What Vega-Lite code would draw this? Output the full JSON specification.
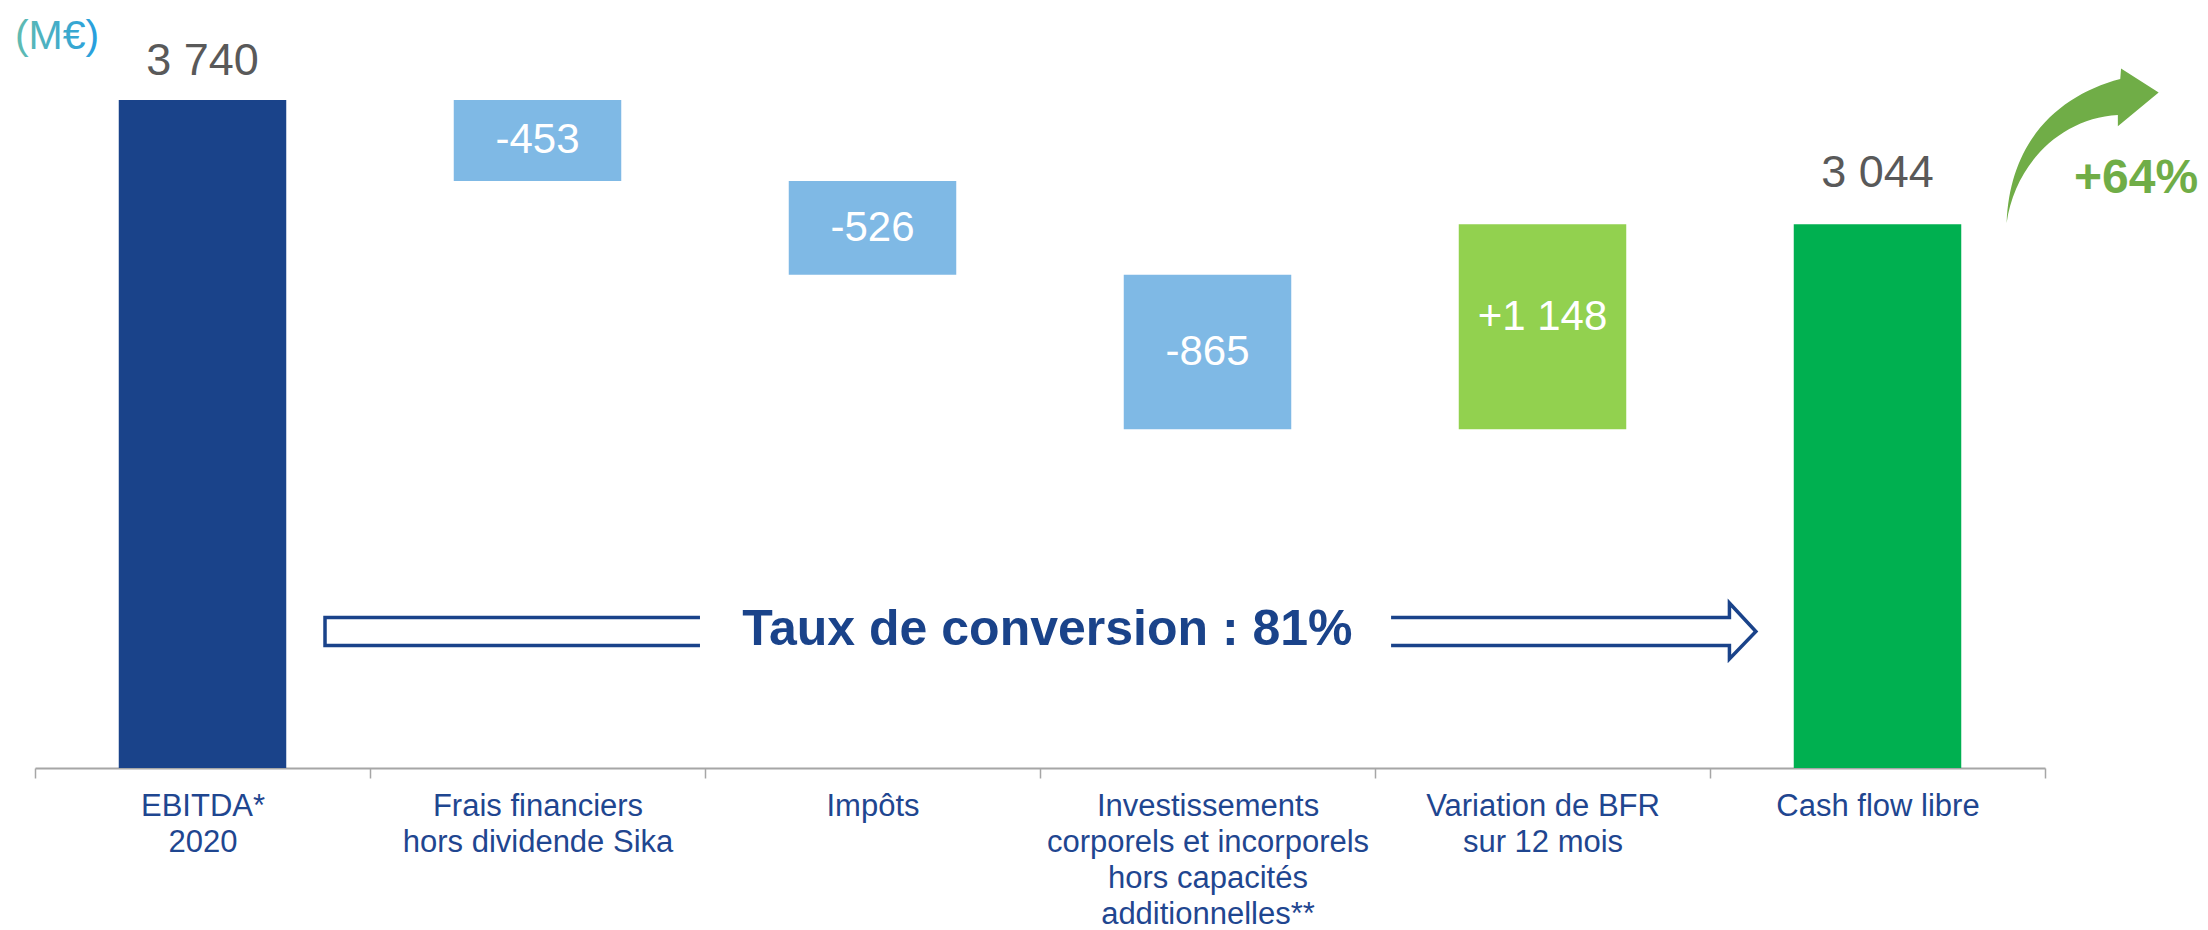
{
  "$schema": "https://vega.github.io/schema/vega-lite/v6.json",
  "width": 2010,
  "height": 768,
  "autosize": {"type": "none"},
  "padding": {"left": 35, "top": 0, "right": 163, "bottom": 162},
  "background": "white",
  "config": {"view": {"stroke": null}, "font": "Liberation Sans"},
  "datasets": {
    "steps": [
      {"cat": "EBITDA*|2020", "start": 0, "end": 3740, "kind": "base", "pos": "out", "txt": "3 740"},
      {"cat": "Frais financiers|hors dividende Sika", "start": 3740, "end": 3287, "kind": "neg", "pos": "in", "txt": "-453"},
      {"cat": "Impôts", "start": 3287, "end": 2761, "kind": "neg", "pos": "in", "txt": "-526"},
      {"cat": "Investissements|corporels et incorporels|hors capacités|additionnelles**", "start": 2761, "end": 1896, "kind": "neg", "pos": "in", "txt": "-865"},
      {"cat": "Variation de BFR|sur 12 mois", "start": 1896, "end": 3044, "kind": "pos", "pos": "in", "txt": "+1 148"},
      {"cat": "Cash flow libre", "start": 0, "end": 3044, "kind": "total", "pos": "out", "txt": "3 044"}
    ],
    "outline": [
      {"seg": "L", "i": 1, "qx": 1.985, "qy": 842.6},
      {"seg": "L", "i": 2, "qx": 0.8657, "qy": 842.6},
      {"seg": "L", "i": 3, "qx": 0.8657, "qy": 685.9},
      {"seg": "L", "i": 4, "qx": 1.985, "qy": 685.9},
      {"seg": "R", "i": 1, "qx": 4.048, "qy": 842.6},
      {"seg": "R", "i": 2, "qx": 5.058, "qy": 842.6},
      {"seg": "R", "i": 3, "qx": 5.058, "qy": 923.8},
      {"seg": "R", "i": 4, "qx": 5.137, "qy": 764},
      {"seg": "R", "i": 5, "qx": 5.058, "qy": 610.3},
      {"seg": "R", "i": 6, "qx": 5.058, "qy": 685.9},
      {"seg": "R", "i": 7, "qx": 4.048, "qy": 685.9}
    ]
  },
  "resolve": {"scale": {"x": "independent"}},
  "layer": [
    {
      "layer": [
        {
          "data": {"name": "steps"},
          "mark": {"type": "bar", "width": {"band": 0.5}},
          "encoding": {
            "x": {
              "field": "cat", "type": "nominal", "sort": null,
              "scale": {
                "domain": ["EBITDA*|2020", "Frais financiers|hors dividende Sika", "Impôts", "Investissements|corporels et incorporels|hors capacités|additionnelles**", "Variation de BFR|sur 12 mois", "Cash flow libre"],
                "paddingInner": 0, "paddingOuter": 0
              },
              "axis": {
                "title": null, "labelAngle": 0, "labelExpr": "split(datum.label, '|')",
                "labelFont": "Liberation Sans", "labelFontSize": 31, "labelColor": "#1f4690",
                "labelLineHeight": 36, "labelPadding": 13, "labelLimit": 500,
                "domainColor": "#a6a6a6", "domainWidth": 2,
                "ticks": true, "tickBand": "extent", "tickSize": 10, "tickColor": "#a6a6a6", "tickWidth": 1.5,
                "grid": false
              }
            },
            "y": {"field": "start", "type": "quantitative", "scale": {"domain": [0, 4300], "nice": false, "zero": false}, "axis": null},
            "y2": {"field": "end"},
            "color": {
              "field": "kind", "type": "nominal",
              "scale": {"domain": ["base", "neg", "pos", "total"], "range": ["#1a438a", "#7fb9e5", "#92d14f", "#00b050"]},
              "legend": null
            }
          }
        },
        {
          "data": {"name": "steps"},
          "transform": [
            {"filter": "datum.kind == 'neg'"},
            {"calculate": "(datum.start + datum.end) / 2", "as": "mid"}
          ],
          "mark": {"type": "text", "fontSize": 42, "color": "white", "baseline": "middle", "align": "center", "font": "Liberation Sans"},
          "encoding": {
            "x": {"field": "cat", "type": "nominal", "sort": null},
            "y": {"field": "mid", "type": "quantitative"},
            "text": {"field": "txt"}
          }
        },
        {
          "data": {"name": "steps"},
          "transform": [
            {"filter": "datum.kind == 'pos'"},
            {"calculate": "(datum.start + datum.end) / 2", "as": "mid"}
          ],
          "mark": {"type": "text", "fontSize": 42, "color": "white", "baseline": "middle", "align": "center", "dy": -10, "font": "Liberation Sans"},
          "encoding": {
            "x": {"field": "cat", "type": "nominal", "sort": null},
            "y": {"field": "mid", "type": "quantitative"},
            "text": {"field": "txt"}
          }
        },
        {
          "data": {"name": "steps"},
          "transform": [{"filter": "datum.kind == 'base'"}],
          "mark": {"type": "text", "fontSize": 45, "color": "#595959", "baseline": "alphabetic", "align": "center", "dy": -25, "font": "Liberation Sans"},
          "encoding": {
            "x": {"field": "cat", "type": "nominal", "sort": null},
            "y": {"field": "end", "type": "quantitative"},
            "text": {"field": "txt"}
          }
        },
        {
          "data": {"name": "steps"},
          "transform": [{"filter": "datum.kind == 'total'"}],
          "mark": {"type": "text", "fontSize": 45, "color": "#595959", "baseline": "alphabetic", "align": "center", "dy": -37, "font": "Liberation Sans"},
          "encoding": {
            "x": {"field": "cat", "type": "nominal", "sort": null},
            "y": {"field": "end", "type": "quantitative"},
            "text": {"field": "txt"}
          }
        }
      ]
    },
    {
      "layer": [
        {
          "data": {"name": "outline"},
          "mark": {"type": "line", "color": "#1a438a", "strokeWidth": 3.5, "strokeJoin": "miter"},
          "encoding": {
            "x": {"field": "qx", "type": "quantitative", "scale": {"domain": [0, 6], "nice": false, "zero": false}, "axis": null},
            "y": {"field": "qy", "type": "quantitative"},
            "detail": {"field": "seg"},
            "order": {"field": "i", "type": "quantitative"}
          }
        },
        {
          "data": {"values": [{"qx": 3.022, "qy": 689, "note": "Taux de conversion : 81%"}]},
          "mark": {"type": "text", "fontSize": 50, "fontWeight": "bold", "color": "#1a438a", "align": "center", "baseline": "alphabetic", "font": "Liberation Sans"},
          "encoding": {
            "x": {"field": "qx", "type": "quantitative"},
            "y": {"field": "qy", "type": "quantitative"},
            "text": {"field": "note"}
          }
        },
        {
          "data": {"values": [{"qx": 0.0657, "qy": 4026, "note": "(M€)"}]},
          "mark": {
            "type": "text", "fontSize": 41, "align": "center", "baseline": "alphabetic", "font": "Liberation Sans",
            "color": {"gradient": "linear", "x1": 0, "y1": 0, "x2": 1, "y2": 0, "stops": [{"offset": 0, "color": "#62bcb0"}, {"offset": 1, "color": "#259ee0"}]}
          },
          "encoding": {
            "x": {"field": "qx", "type": "quantitative"},
            "y": {"field": "qy", "type": "quantitative"},
            "text": {"field": "note"}
          }
        },
        {
          "data": {"values": [{"qx": 6.272, "qy": 3219, "note": "+64%"}]},
          "mark": {"type": "text", "fontSize": 48, "fontWeight": "bold", "color": "#70ad47", "align": "center", "baseline": "alphabetic", "font": "Liberation Sans"},
          "encoding": {
            "x": {"field": "qx", "type": "quantitative"},
            "y": {"field": "qy", "type": "quantitative"},
            "text": {"field": "note"}
          }
        },
        {
          "data": {"values": [{"qx": 6.11, "qy": 3477}]},
          "mark": {
            "type": "point", "filled": true, "size": 25600, "color": "#70ad47", "opacity": 1, "strokeWidth": 0,
            "shape": "M-0.94,0.95C-0.9,-0.09,-0.28,-0.65,0.48,-0.85L0.49,-0.98L0.96,-0.68L0.45,-0.26L0.45,-0.4C-0.28,-0.36,-0.84,0.23,-0.94,0.95Z"
          },
          "encoding": {
            "x": {"field": "qx", "type": "quantitative"},
            "y": {"field": "qy", "type": "quantitative"}
          }
        }
      ]
    }
  ]
}
